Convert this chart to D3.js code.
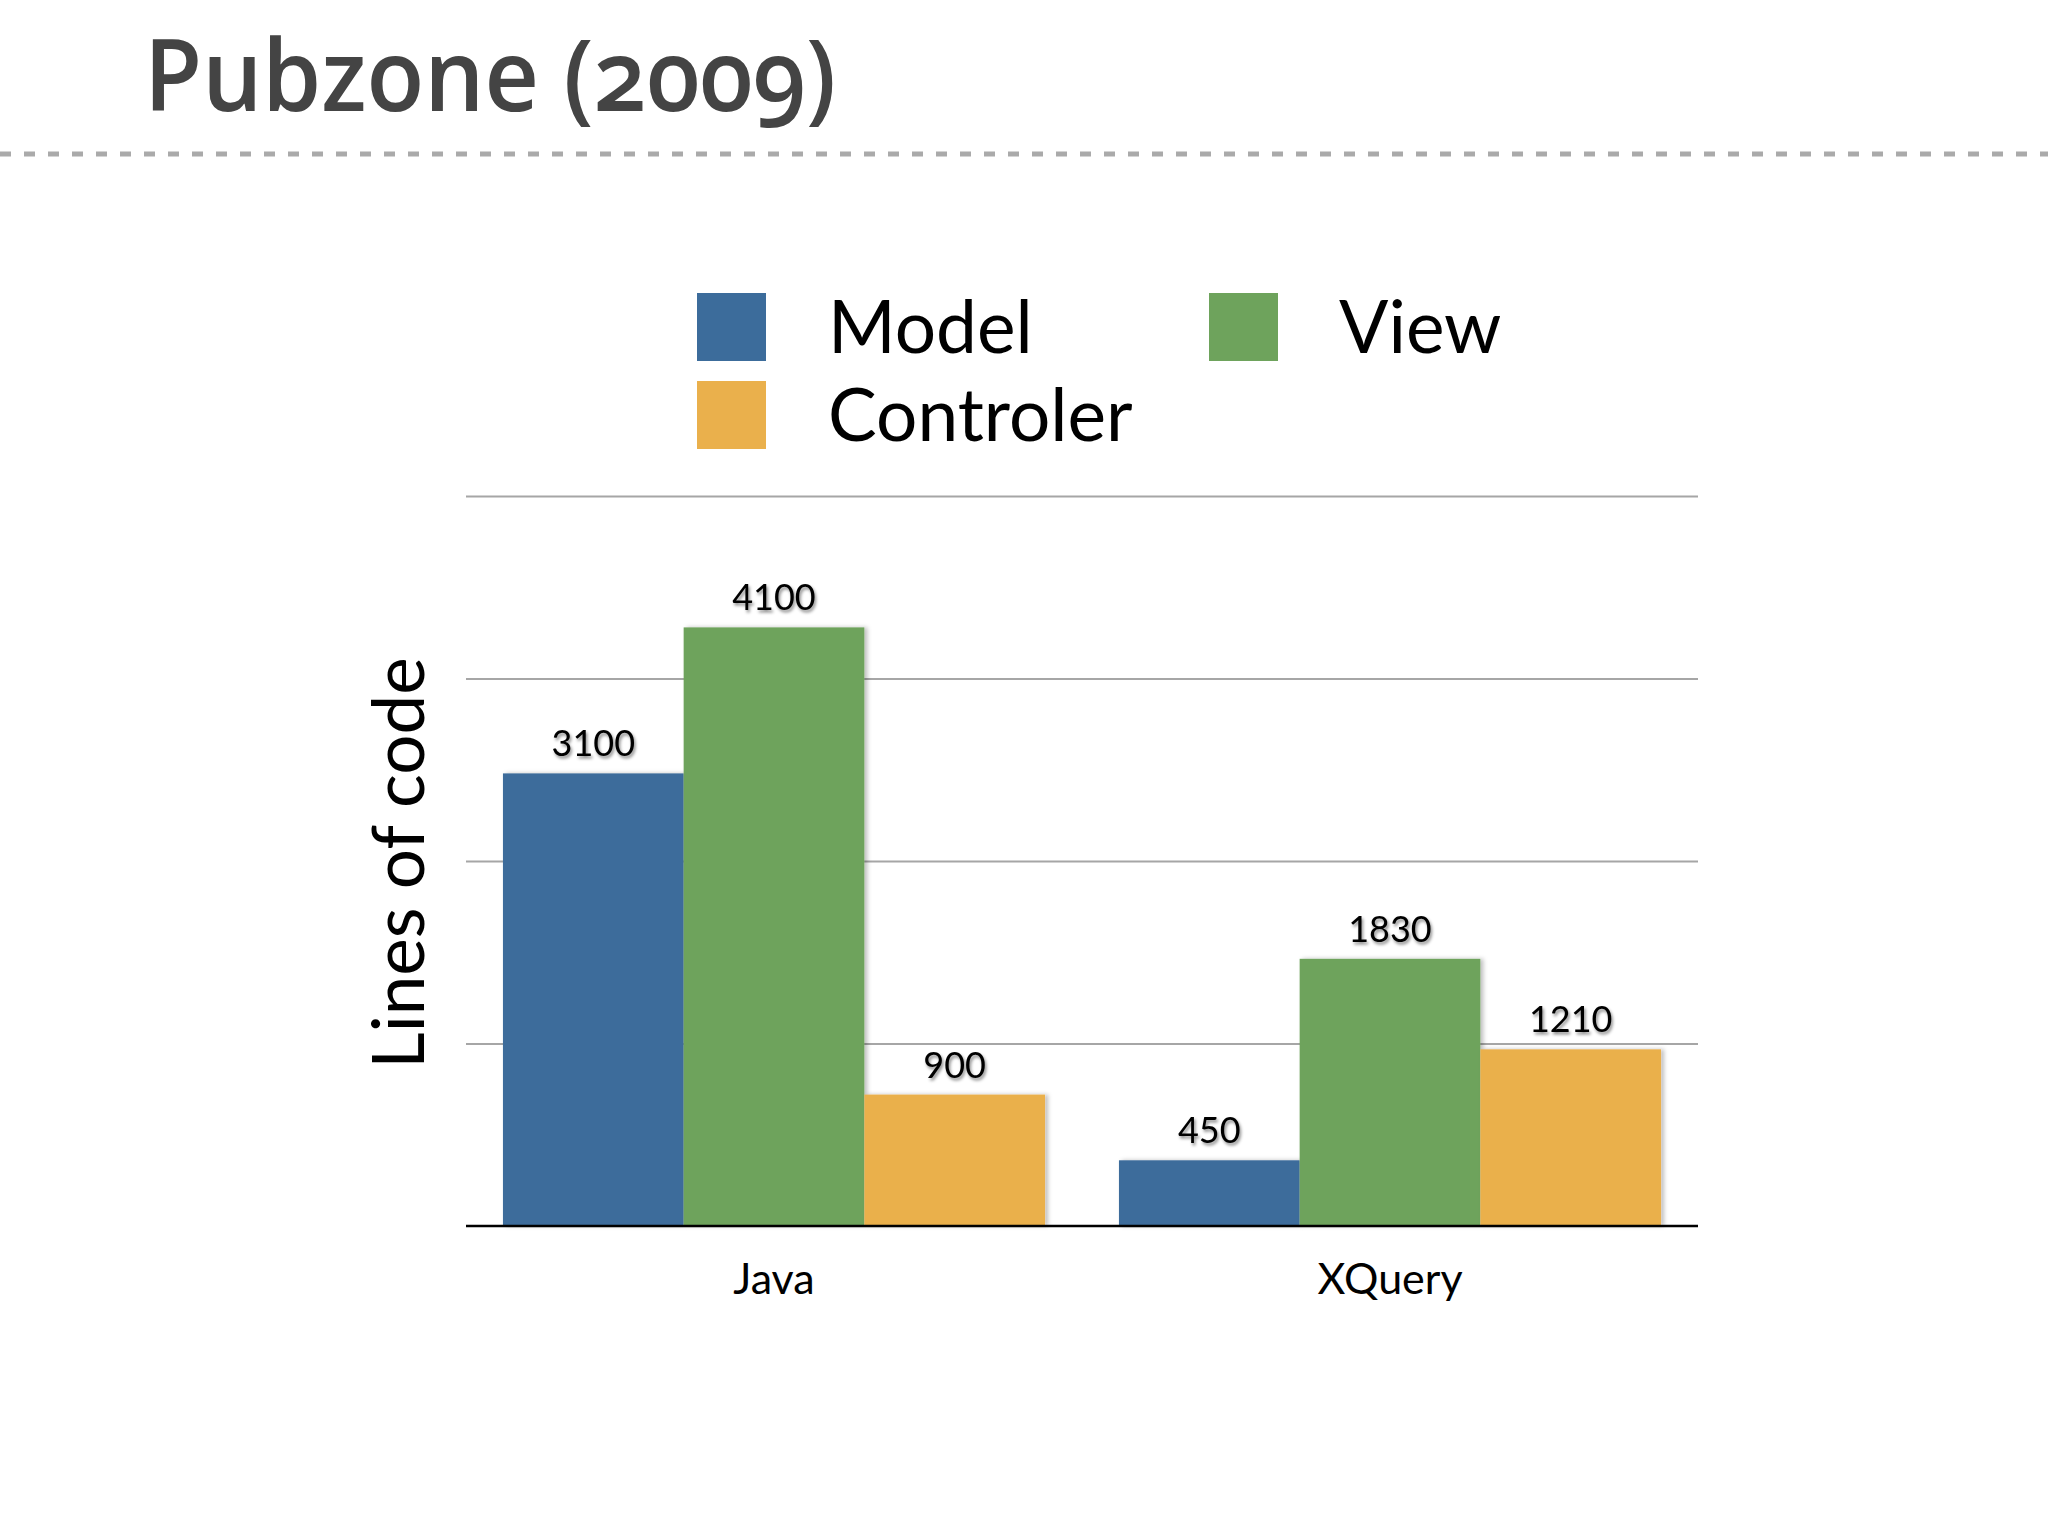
<!DOCTYPE html>
<html>
<head>
<meta charset="utf-8">
<script src="https://cdn.jsdelivr.net/npm/d3@7"></script>
<style>
  html, body { margin: 0; padding: 0; background: #ffffff; }
  svg { display: block; }
</style>
</head>
<body>
<script>
const categories = ["Java", "XQuery"];
const seriesNames = ["Model", "View", "Controler"];
const modelValues = [3100, 450];
const viewValues = [4100, 1830];
const controlerValues = [900, 1210];
const yTicks = [0, 1250, 2500, 3750, 5000];
const seriesColors = ["#3c6c9b", "#6ea35c", "#eab04c"];
const titleText = "Pubzone (2009)";
const yTitle = "Lines of code";

const W = 2048, H = 1536;
const svg = d3.select("body").append("svg").attr("width", W).attr("height", H);
svg.append("rect").attr("width", W).attr("height", H).attr("fill", "#fff");

const defs = svg.append("defs");
const f1 = defs.append("filter").attr("id", "barShadow").attr("x", "-10%").attr("y", "-10%").attr("width", "130%").attr("height", "130%");
f1.append("feDropShadow").attr("dx", 3).attr("dy", 0).attr("stdDeviation", 2).attr("flood-color", "#000").attr("flood-opacity", 0.25);
const f2 = defs.append("filter").attr("id", "txtShadow").attr("x", "-20%").attr("y", "-30%").attr("width", "150%").attr("height", "170%");
f2.append("feDropShadow").attr("dx", 1.5).attr("dy", 2.5).attr("stdDeviation", 1.6).attr("flood-color", "#000").attr("flood-opacity", 0.45);

// Title
svg.append("text")
  .attr("x", 144).attr("y", 111)
  .attr("font-family", "'Open Sans', 'Noto Sans', sans-serif")
  .attr("font-weight", 600)
  .attr("font-size", 100)
  .attr("fill", "#444")
  .style("font-variant-numeric", "oldstyle-nums")
  .attr("textLength", 692).attr("lengthAdjust", "spacingAndGlyphs")
  .text(titleText);

// dashed separator
svg.append("line")
  .attr("x1", 0).attr("x2", W).attr("y1", 154).attr("y2", 154)
  .attr("stroke", "#aaaaaa").attr("stroke-width", 5)
  .attr("stroke-dasharray", "11 13");

const margin = { left: 466, right: W - 1698, top: 496, bottom: H - 1226 };
const x0 = d3.scaleBand().domain(categories).range([margin.left, W - margin.right]).paddingInner(0.12).paddingOuter(0.06);
const x1 = d3.scaleBand().domain(seriesNames).range([0, x0.bandwidth()]).padding(0);
const y = d3.scaleLinear().domain([0, 5000]).range([H - margin.bottom, margin.top]);
const color = d3.scaleOrdinal().domain(seriesNames).range(seriesColors);

// gridlines
const grid = svg.append("g")
  .attr("transform", `translate(${margin.left},0)`)
  .call(d3.axisLeft(y).tickValues(yTicks.slice(1)).tickSize(-(W - margin.left - margin.right)).tickFormat(""));
grid.select(".domain").remove();
grid.selectAll("line").attr("stroke", "#a6a6a6").attr("stroke-width", 2);

const seriesValues = { "Model": modelValues, "View": viewValues, "Controler": controlerValues };
const data = [];
categories.forEach((c, i) => seriesNames.forEach(s => data.push({ cat: c, series: s, value: seriesValues[s][i] })));

// bars
svg.append("g").selectAll("rect").data(data).join("rect")
  .attr("x", d => x0(d.cat) + x1(d.series))
  .attr("y", d => y(d.value))
  .attr("width", x1.bandwidth())
  .attr("height", d => y(0) - y(d.value))
  .attr("fill", d => color(d.series))
  .attr("filter", "url(#barShadow)");

// baseline axis
const xAxis = svg.append("g")
  .attr("transform", `translate(0,${y(0)})`)
  .call(d3.axisBottom(x0).tickSize(0).tickPadding(0));
xAxis.select(".domain").attr("stroke", "#000").attr("stroke-width", 2.5).attr("d", `M${margin.left},0H${W - margin.right}`);
xAxis.selectAll("text")
  .attr("y", 68).attr("dy", 0)
  .attr("font-family", "Lato, 'Open Sans', sans-serif")
  .attr("font-size", 43).attr("fill", "#000");

// value labels
svg.append("g").selectAll("text").data(data).join("text")
  .attr("x", d => x0(d.cat) + x1(d.series) + x1.bandwidth() / 2)
  .attr("y", d => y(d.value) - 17)
  .attr("text-anchor", "middle")
  .attr("font-family", "Lato, 'Open Sans', sans-serif")
  .attr("font-size", 36)
  .attr("fill", "#000")
  .attr("filter", "url(#txtShadow)")
  .text(d => d.value);

// y title
svg.append("text")
  .attr("transform", `translate(424,${(y(0) + y(5000)) / 2 + 2}) rotate(-90)`)
  .attr("text-anchor", "middle")
  .attr("font-family", "Lato, 'Open Sans', sans-serif")
  .attr("font-size", 71)
  .attr("fill", "#000")
  .text(yTitle);

// legend
const legendPos = [
  { name: "Model", sx: 697, sy: 293, tx: 828, ty: 353 },
  { name: "View", sx: 1209, sy: 293, tx: 1339, ty: 353 },
  { name: "Controler", sx: 697, sy: 381, tx: 828, ty: 441 }
];
const lg = svg.append("g").selectAll("g").data(legendPos).join("g");
lg.append("rect")
  .attr("x", d => d.sx).attr("y", d => d.sy)
  .attr("width", 69).attr("height", 68)
  .attr("fill", d => color(d.name));
lg.append("text")
  .attr("x", d => d.tx).attr("y", d => d.ty)
  .attr("font-family", "Lato, 'Open Sans', sans-serif")
  .attr("font-size", 73)
  .attr("fill", "#000")
  .text(d => d.name);
</script>
</body>
</html>
